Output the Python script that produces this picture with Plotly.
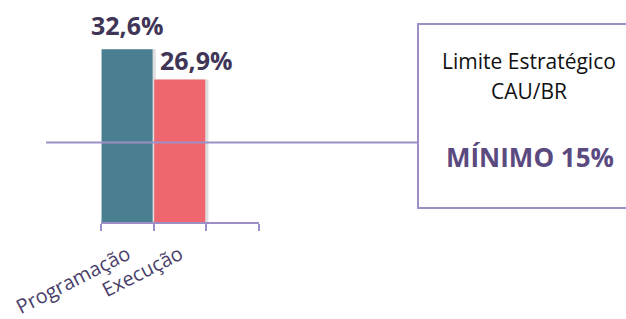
import plotly.graph_objects as go

categories = ["Programação", "Execução", " "]
values = [32.6, 26.9, None]
value_labels = ["32,6%", "26,9%"]
bar_colors = ["#4a7f91", "#f0666e", "#ffffff"]
minimum_limit = 15
box_line1 = "Limite Estratégico"
box_line2 = "CAU/BR"
box_value = "MÍNIMO 15%"

Y_MAX = 40
PURPLE_LINE = "#9d8fc6"
FONT = "Open Sans"

# pixel helpers (px -> paper fraction); plot area 101..259 x, 10..222 y
L, R, T, B = 101, 259, 10, 222
def xp(px):
    return (px - L) / (R - L)
def yp(py):
    return (B - py) / (B - T)

fig = go.Figure()
# soft drop shadow behind bars
fig.add_trace(go.Bar(
    x=categories, y=values, width=0.97, offset=-0.43,
    marker=dict(color="rgba(90,90,90,0.2)", line=dict(width=0)),
    hoverinfo="skip",
))
fig.add_trace(go.Bar(
    x=categories, y=values, width=0.97, offset=-0.49,
    marker=dict(color=bar_colors, line=dict(width=0)),
    hoverinfo="skip",
))

# Value labels
xshifts = [0, 16]
yshifts = [24, 19]
for cat, v, lab, xs, ys in zip(categories, values, value_labels, xshifts, yshifts):
    fig.add_annotation(
        x=cat, y=v, text=f"<b>{lab}</b>", showarrow=False,
        yanchor="middle", xanchor="center", xshift=xs, yshift=ys,
        font=dict(family=FONT, size=25, color="#3f3557"),
    )

# Minimum limit line (15%) running into the box
fig.add_shape(type="line", xref="paper", yref="y",
              x0=xp(46), x1=xp(418), y0=minimum_limit, y1=minimum_limit,
              line=dict(color=PURPLE_LINE, width=2), layer="above")

# Box on the right
fig.add_shape(type="rect", xref="paper", yref="paper",
              x0=xp(418), x1=xp(650), y0=yp(208), y1=yp(24),
              line=dict(color=PURPLE_LINE, width=2), fillcolor="rgba(0,0,0,0)")
fig.add_annotation(xref="paper", yref="paper", x=xp(529), y=yp(61),
                   text=box_line1, showarrow=False, xanchor="center", yanchor="middle",
                   font=dict(family=FONT, size=21, color="#111111"))
fig.add_annotation(xref="paper", yref="paper", x=xp(529), y=yp(91),
                   text=box_line2, showarrow=False, xanchor="center", yanchor="middle",
                   font=dict(family=FONT, size=21, color="#111111"))
fig.add_annotation(xref="paper", yref="paper", x=xp(530), y=yp(157),
                   text=f"<b>{box_value}</b>", showarrow=False, xanchor="center", yanchor="middle",
                   font=dict(family=FONT, size=26, color="#5b4a80"))

fig.update_layout(
    width=626, height=319,
    margin=dict(l=L, r=626 - R, t=T, b=319 - B, autoexpand=False),
    paper_bgcolor="white", plot_bgcolor="white",
    barmode="overlay", showlegend=False,
    font=dict(family=FONT),
)
fig.update_xaxes(
    type="category", range=[-0.5, 2.5],
    showline=True, linecolor=PURPLE_LINE, linewidth=2,
    ticks="outside", tickson="boundaries", ticklen=7, tickcolor=PURPLE_LINE, tickwidth=2,
    tickangle=-27, tickfont=dict(family=FONT, size=20, color="#4a3f6b"),
    ticklabelstandoff=11,
    showgrid=False, zeroline=False, automargin=False,
)
fig.update_yaxes(range=[0, Y_MAX], visible=False, showgrid=False)

fig.write_html(
    "out.html",
    config={"displayModeBar": False},
    post_script="document.body.style.margin='0';document.body.style.overflow='hidden';",
)
